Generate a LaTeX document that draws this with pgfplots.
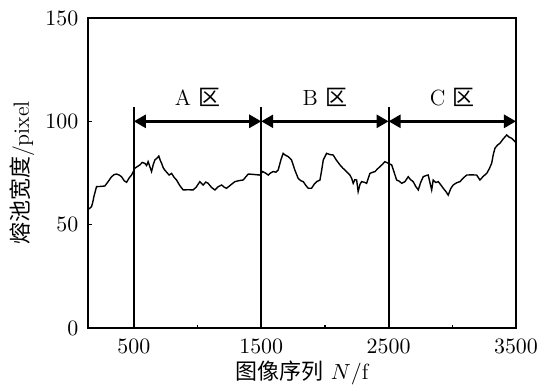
\documentclass[border=0pt]{standalone}
\usepackage{fontspec}
\usepackage{pgfplots}
\pgfplotsset{compat=1.18}
\usetikzlibrary{arrows.meta}
\newfontfamily\cjk{Noto Sans CJK SC}

% melt-pool width per frame
\pgfplotstableread{
x v
141 57.4
155 58
168 58.7
178 61
186 63.5
207 68.4
240 68.5
272 68.7
300 71
325 73.2
345 74.2
364 74.5
385 74.0
403 73.2
425 71.2
443 70.5
462 72.5
482 74
508 77.3
530 78.2
547 78.9
566 80.1
586 79.7
600 78.6
612 80.5
626 78
639 75.7
652 79.0
665 81.3
682 82.2
696 83.2
708 81.0
718 79.7
730 77.6
743 76.4
760 75.2
777 74
796 74.8
815 73.0
835 71.6
860 69.0
887 66.8
925 66.9
966 66.8
990 68.2
1018 70.8
1044 69.2
1065 70.6
1083 70
1110 68.0
1136 66.8
1160 68.3
1189 69.2
1210 68.1
1228 67.6
1260 69.2
1293 70.8
1325 71.3
1358 71.6
1398 74.5
1440 74.3
1489 74
1511 75.7
1535 74.9
1555 74
1575 75.1
1594 75.7
1615 75.4
1633 76.4
1655 81.5
1672 84.5
1690 83.6
1712 82.9
1738 81.3
1764 76.4
1790 72.4
1810 71.3
1830 70.8
1850 69.0
1869 67.6
1895 67.6
1915 69.5
1935 70.8
1961 71.6
1975 76.5
1987 81.3
2013 84.5
2040 83.9
2065 83.7
2090 81.2
2118 78.9
2140 77.4
2157 76.4
2180 75.0
2196 74
2210 72.4
2222 70
2235 71.8
2249 71.6
2261 66
2275 69.5
2288 70.8
2310 70.5
2327 70
2353 74.8
2373 75.3
2393 75.7
2412 76.9
2432 78.1
2452 79.2
2471 80.5
2497 79.7
2524 78.9
2545 75.0
2563 71.6
2585 71.0
2602 70
2628 70.8
2654 73.2
2672 71.8
2693 70.8
2713 68.5
2733 66.8
2752 70.5
2772 73.2
2795 73.8
2811 74
2825 70.2
2838 66.8
2850 71.6
2870 70.4
2890 70.8
2910 69.2
2929 67.6
2950 66.0
2968 64.3
2988 67.5
3007 69.2
3035 70.3
3060 70.8
3085 72.5
3113 74
3150 74.1
3191 74
3217 71.6
3245 73.5
3270 74.8
3290 77.0
3309 79.7
3322 84.0
3335 87
3355 88.5
3374 89.4
3400 91.5
3427 93.4
3445 92.4
3466 91.8
3492 90.2
3500 89.5
}\widthdata

\begin{document}
\fontsize{11}{13}\selectfont
\begin{tikzpicture}
\begin{axis}[
  scale only axis,
  width=214pt, height=155pt,
  xmin=140, xmax=3500, ymin=0, ymax=150,
  xtick={500,1500,2500,3500},
  minor xtick={1000,2000,3000},
  ytick={0,50,100,150},
  /pgf/number format/1000 sep={},
  tick pos=left,
  tick align=inside,
  major tick length=2pt, minor tick length=1.5pt,
  axis line style={line width=1.2pt},
  every tick/.style={black, line width=0.6pt},
  tick label style={font=\fontsize{11}{13}\selectfont},
  yticklabel style={xshift=-1pt},
  xticklabel style={yshift=-2pt},
  xlabel={{\cjk 图像序列}\ $N/\mathrm{f}$},
  ylabel={{\cjk 熔池宽度}/pixel},
  label style={font=\fontsize{11}{13}\selectfont},
  xlabel style={yshift=4pt},
  ylabel style={yshift=-2pt},
  clip=false,
]
\addplot[black, line width=0.7pt] table[x=x, y=v] {\widthdata};

% zone boundaries
\addplot[black, line width=1pt] coordinates {(500,0) (500,107)};
\addplot[black, line width=1pt] coordinates {(1500,0) (1500,107)};
\addplot[black, line width=1pt] coordinates {(2500,0) (2500,107)};
\addplot[black, line width=1pt] coordinates {(3500,0) (3500,107)};

% zone extents
\addplot[black, line width=1.3pt, {Triangle[length=6pt,width=6.5pt]}-{Triangle[length=6pt,width=6.5pt]}]
  coordinates {(500,100) (1500,100)};
\addplot[black, line width=1.3pt, {Triangle[length=6pt,width=6.5pt]}-{Triangle[length=6pt,width=6.5pt]}]
  coordinates {(1500,100) (2500,100)};
\addplot[black, line width=1.3pt, {Triangle[length=6pt,width=6.5pt]}-{Triangle[length=6pt,width=6.5pt]}]
  coordinates {(2500,100) (3500,100)};

\node at (axis cs:1000,111.5) {A {\cjk 区}};
\node at (axis cs:2000,111.5) {B {\cjk 区}};
\node at (axis cs:3000,111.5) {C {\cjk 区}};
\end{axis}
\pgfresetboundingbox
\path (-44pt,-30.5pt) rectangle (227.5pt,164pt);
\end{tikzpicture}
\end{document}
